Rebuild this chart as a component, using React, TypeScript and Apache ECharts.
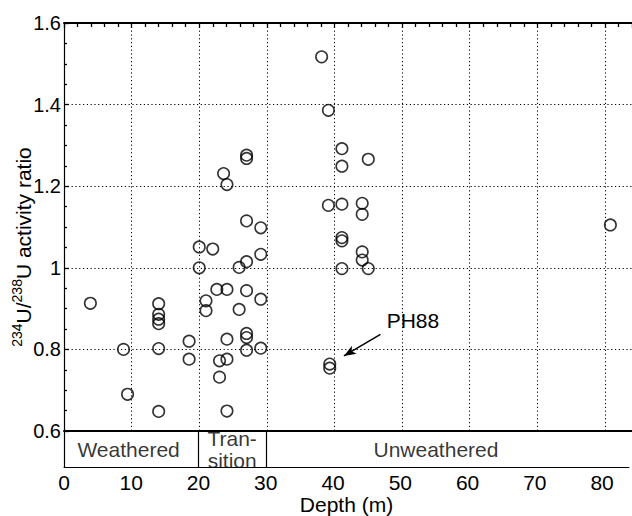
import React, { useEffect, useRef } from 'react';
import * as echarts from 'echarts';

// Sample depths (m) and 234U/238U activity ratios
const depths: number[] = [
  3.9, 8.8, 9.4, 14.0, 14.0, 14.0, 14.0, 14.0, 14.0, 18.5, 18.5,
  20.0, 20.0, 21.0, 21.0, 22.0, 22.6, 23.0, 23.0, 23.6,
  24.1, 24.1, 24.1, 24.1, 24.1, 25.9, 25.9,
  27.0, 27.0, 27.0, 27.0, 27.0, 27.0, 27.0, 27.0,
  29.1, 29.1, 29.1, 29.1,
  38.1, 39.1, 39.1, 39.3, 39.3,
  41.1, 41.1, 41.1, 41.1, 41.1, 41.1,
  44.1, 44.1, 44.1, 44.1, 45.0, 45.0, 80.8,
];
const ratios: number[] = [
  0.913, 0.8, 0.69, 0.912, 0.886, 0.874, 0.863, 0.802, 0.648, 0.82, 0.776,
  1.051, 1.0, 0.919, 0.895, 1.046, 0.947, 0.772, 0.732, 1.231,
  1.204, 0.947, 0.825, 0.776, 0.649, 1.001, 0.898,
  1.276, 1.268, 1.115, 1.015, 0.944, 0.839, 0.829, 0.798,
  1.098, 1.033, 0.923, 0.803,
  1.517, 1.386, 1.153, 0.764, 0.754,
  1.292, 1.249, 1.156, 1.074, 1.066, 0.998,
  1.158, 1.131, 1.039, 1.019, 1.266, 0.998, 1.105,
];

// Weathering zones shown below the plot
const zoneNames: string[] = ['Weathered', 'Tran-\nsition', 'Unweathered'];
const zoneLabelDepths: number[] = [9.6, 25, 55.3];
const zoneBoundaries: number[] = [20, 30];

// PH88 annotation
const ph88Text = 'PH88';
const ph88LabelAt: number[] = [51.6, 0.872];
const ph88ArrowFrom: number[] = [46.8, 0.837];
const ph88ArrowTo: number[] = [41.4, 0.784];

const FONT = '"Liberation Sans", Arial, Helvetica, sans-serif';
const BLACK = '#000';

export default function App() {
  const ref = useRef<HTMLDivElement>(null);

  useEffect(() => {
    if (!ref.current) return;
    const chart = echarts.init(ref.current, null, { renderer: 'svg' });

    const points = depths.map((d, i) => [d, ratios[i]]);
    const zoneData = zoneNames.map((n, i) => ({ name: n, value: [zoneLabelDepths[i], 0.55] }));

    const dotted = { color: BLACK, width: 1, type: [1.2, 2.6] as any };

    chart.setOption({
      animation: false,
      backgroundColor: '#fff',
      textStyle: { fontFamily: FONT, color: BLACK },
      grid: [
        { left: 64, top: 23, width: 568, height: 408, containLabel: false },
        { left: 64, top: 431, width: 568, height: 41, containLabel: false },
      ],
      xAxis: [
        {
          gridIndex: 0, type: 'value', position: 'top', min: 0, max: 84, interval: 10,
          axisLine: { show: true, lineStyle: { color: BLACK, width: 2 } },
          axisTick: { show: true, inside: true, length: 5, lineStyle: { color: BLACK, width: 1.3 } },
          minorTick: { show: true, splitNumber: 5, length: 4, lineStyle: { color: BLACK, width: 1.3 } },
          axisLabel: { show: false },
          splitLine: { show: true, lineStyle: dotted },
        },
        {
          gridIndex: 0, type: 'value', position: 'bottom', min: 0, max: 84, interval: 10,
          axisLine: { show: true, onZero: false, lineStyle: { color: BLACK, width: 2 } },
          axisTick: { show: false }, axisLabel: { show: false }, splitLine: { show: false },
        },
        {
          gridIndex: 1, type: 'value', position: 'bottom', min: 0, max: 84, interval: 10,
          axisLine: { show: true, onZero: false, lineStyle: { color: BLACK, width: 1 } },
          axisTick: { show: false },
          axisLabel: {
            show: true, fontSize: 21, color: BLACK, fontFamily: FONT, margin: 5,
            formatter: (v: number) => (v % 10 === 0 ? String(v) : ''),
          },
          splitLine: { show: false },
          name: 'Depth (m)', nameLocation: 'middle', nameGap: 22,
          nameTextStyle: { fontSize: 21, color: BLACK, fontFamily: FONT },
        },
      ],
      yAxis: [
        {
          gridIndex: 0, type: 'value', min: 0.6, max: 1.6, interval: 0.2,
          axisLine: { show: true, lineStyle: { color: BLACK, width: 1.2 } },
          axisTick: { show: true, inside: true, length: 5, lineStyle: { color: BLACK, width: 1.3 } },
          minorTick: { show: true, splitNumber: 4, length: 3, lineStyle: { color: BLACK, width: 1.3 } },
          axisLabel: {
            show: true, fontSize: 20, color: BLACK, fontFamily: FONT, margin: 3,
            formatter: (v: number) => (Math.abs(v - 1) < 1e-9 ? '1' : v.toFixed(1)),
          },
          splitLine: { show: true, lineStyle: dotted },
        },
        {
          gridIndex: 1, type: 'value', min: 0.5, max: 0.6,
          axisLine: { show: true, lineStyle: { color: BLACK, width: 1.2 } },
          axisTick: { show: false }, axisLabel: { show: false }, splitLine: { show: false },
        },
      ],
      graphic: [
        {
          type: 'text', x: 22, y: 247, rotation: Math.PI / 2,
          style: {
            text: '{s|234}{m|U/}{s|238}{m|U activity ratio}',
            align: 'center', verticalAlign: 'middle', fill: BLACK,
            rich: {
              s: { fontSize: 14, lineHeight: 14, verticalAlign: 'top', fontFamily: FONT, fill: BLACK },
              m: { fontSize: 21, lineHeight: 24, verticalAlign: 'bottom', fontFamily: FONT, fill: BLACK },
            },
          },
        },
      ],
      series: [
        {
          type: 'scatter', xAxisIndex: 0, yAxisIndex: 0, data: points,
          symbol: 'circle', symbolSize: 11.5,
          itemStyle: { color: 'rgba(0,0,0,0)', borderColor: BLACK, borderWidth: 1.6 },
          emphasis: { disabled: true },
          markLine: {
            silent: true, animation: false,
            symbol: ['none', 'arrow'], symbolSize: 11,
            label: { show: false },
            lineStyle: { color: BLACK, width: 1.5, type: 'solid' },
            itemStyle: { color: BLACK },
            data: [[
              { coord: ph88ArrowFrom, symbol: 'none' },
              { coord: ph88ArrowTo, symbol: 'arrow', symbolSize: [7, 12] },
            ]],
          },
          markPoint: {
            silent: true, animation: false, symbolSize: 0,
            label: { show: true, position: 'inside', formatter: ph88Text, fontSize: 21, color: BLACK, fontFamily: FONT },
            data: [{ coord: ph88LabelAt }],
          },
        },
        {
          type: 'scatter', xAxisIndex: 2, yAxisIndex: 1, data: zoneData,
          symbolSize: 0, silent: true,
          label: {
            show: true, position: 'inside', formatter: '{b}', fontSize: 21, lineHeight: 22,
            color: BLACK, fontFamily: FONT, align: 'center',
          },
          markLine: {
            silent: true, animation: false, symbol: ['none', 'none'],
            label: { show: false },
            lineStyle: { color: BLACK, width: 1.2, type: 'solid' },
            data: zoneBoundaries.map((b) => [{ coord: [b, 0.5] }, { coord: [b, 0.6] }]),
          },
        },
      ],
    });

    return () => chart.dispose();
  }, []);

  return (
    <div
      ref={ref}
      style={{ position: 'absolute', left: 0, top: 0, width: 632, height: 516, background: '#fff' }}
    />
  );
}
